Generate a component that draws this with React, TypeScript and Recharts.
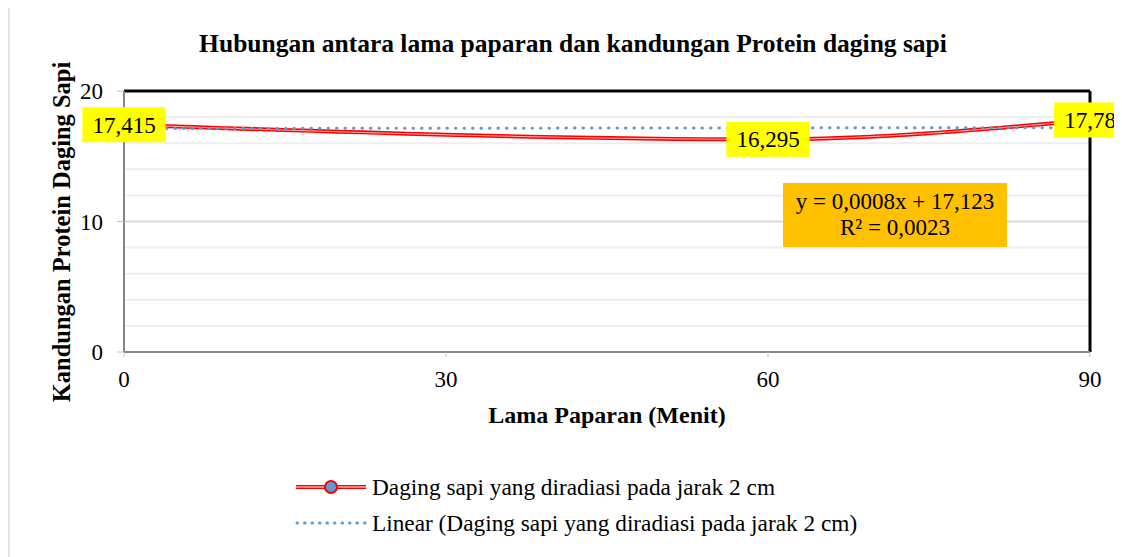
import React from 'react';
import {
  LineChart,
  Line,
  XAxis,
  YAxis,
  ReferenceLine
} from 'recharts';

// minutes of exposure and protein content (%)
const minutes = [0, 60, 90];
const protein = [17.415, 16.295, 17.78];

// linear trendline endpoints (y = 0,0008x + 17,123)
const trendMinutes = [0, 90];
const trendProtein = [17.123, 17.195];

const xTicks = [0, 30, 60, 90];
const yTicks = [0, 10, 20];
const yMinorTicks = [2, 4, 6, 8, 12, 14, 16, 18];

const SERIES_NAME = 'Daging sapi yang diradiasi pada jarak 2 cm';
const FONT = '"Liberation Serif", serif';
const ff = { fontFamily: FONT };

const seriesData = minutes.map((m, i) => ({ m, v: protein[i] }));
const trendData = trendMinutes.map((m, i) => ({ m, t: trendProtein[i] }));

const fmt = (v: number) => String(v).replace('.', ',');

function YellowLabel(props: any) {
  const { x, y, value } = props;
  if (x == null || y == null) return null;
  const text = fmt(value);
  const commas = (text.match(/,/g) || []).length;
  const w = (text.length - commas) * 11.5 + commas * 5.75 + 20;
  const h = 35;
  return (
    <g>
      <rect x={x - w / 2} y={y - h / 2} width={w} height={h} fill="#ffff00" />
      <text
        x={x}
        y={y}
        dy="0.35em"
        textAnchor="middle"
        fill="#000"
        style={{ ...ff, fontSize: 23 }}
      >
        {text}
      </text>
    </g>
  );
}

function XTick(props: any) {
  const { x, y, payload } = props;
  return (
    <text x={x} y={y} dy="0.71em" textAnchor="middle" fill="#000" style={{ ...ff, fontSize: 23 }}>
      {payload.value}
    </text>
  );
}

function YTick(props: any) {
  const { x, y, payload } = props;
  return (
    <text x={x} y={y} dy="0.35em" textAnchor="end" fill="#000" style={{ ...ff, fontSize: 23 }}>
      {payload.value}
    </text>
  );
}

export default function App() {
  return (
    <div
      style={{
        position: 'relative',
        width: 1114,
        height: 551,
        marginTop: -2,
        ...ff,
        background: '#fff'
      }}
    >
      <div
        style={{
          position: 'absolute',
          left: 0,
          top: 0,
          right: -10,
          bottom: -10,
          borderTop: '2px solid #e3e3e3',
          borderLeft: '2px solid #e3e3e3'
        }}
      />
      <div
        style={{
          position: 'absolute',
          left: 0,
          width: 1130,
          top: 23,
          textAlign: 'center',
          fontSize: 25.5,
          fontWeight: 'bold',
          color: '#000',
          ...ff
        }}
      >
        Hubungan antara lama paparan dan kandungan Protein daging sapi
      </div>

      <LineChart
        width={1114}
        height={551}
        data={seriesData}
        margin={{ top: 85, right: 32, left: 0, bottom: 165 }}
      >
        <XAxis
          dataKey="m"
          type="number"
          domain={[0, 90]}
          ticks={xTicks}
          height={40}
          allowDataOverflow
          axisLine={{ stroke: '#868686', strokeWidth: 2 }}
          tickLine={{ stroke: '#bfbfbf' }}
          tickSize={5}
          tickMargin={14}
          tick={<XTick />}
        />
        <YAxis
          type="number"
          domain={[0, 20]}
          ticks={yTicks}
          width={116}
          axisLine={{ stroke: '#868686', strokeWidth: 2 }}
          tickLine={{ stroke: '#bfbfbf' }}
          tickSize={7}
          tickMargin={14}
          tick={<YTick />}
        />
        {yMinorTicks.map((t) => (
          <ReferenceLine key={t} y={t} stroke="#eeeeee" strokeWidth={2} />
        ))}
        <ReferenceLine y={10} stroke="#d9d9d9" strokeWidth={2} />
        <ReferenceLine y={20} stroke="#000" strokeWidth={3} />
        <ReferenceLine x={90} stroke="#000" strokeWidth={3} />
        <Line
          dataKey="v"
          type="monotone"
          stroke="#ff0000"
          strokeWidth={4}
          dot={false}
          isAnimationActive={false}
          name={SERIES_NAME}
          label={<YellowLabel />}
        />
        <Line
          dataKey="v"
          type="monotone"
          stroke="#ffb0b0"
          strokeWidth={1}
          dot={false}
          isAnimationActive={false}
          legendType="none"
        />
        <Line
          data={trendData}
          dataKey="t"
          type="linear"
          stroke="#5b9bd5"
          strokeWidth={3}
          strokeDasharray="0.5 8"
          strokeLinecap="round"
          dot={false}
          isAnimationActive={false}
          name={`Linear (${SERIES_NAME})`}
        />
      </LineChart>

      {/* y-axis title */}
      <div
        style={{
          position: 'absolute',
          left: 54,
          top: 226,
          transform: 'translate(-50%, -50%) rotate(-90deg)',
          whiteSpace: 'nowrap',
          fontSize: 24.5,
          fontWeight: 'bold',
          ...ff
        }}
      >
        Kandungan Protein Daging Sapi
      </div>

      {/* x-axis title */}
      <div
        style={{
          position: 'absolute',
          left: 599,
          top: 409,
          transform: 'translate(-50%, -50%)',
          whiteSpace: 'nowrap',
          fontSize: 24,
          fontWeight: 'bold',
          ...ff
        }}
      >
        Lama Paparan (Menit)
      </div>

      {/* trendline equation */}
      <div
        style={{
          position: 'absolute',
          left: 775,
          top: 177,
          width: 224,
          height: 64,
          background: '#ffc000',
          fontSize: 23,
          lineHeight: '26px',
          textAlign: 'center',
          paddingTop: 6,
          boxSizing: 'border-box',
          ...ff
        }}
      >
        y = 0,0008x + 17,123
        <br />
        R² = 0,0023
      </div>

      {/* legend */}
      <div style={{ position: 'absolute', left: 287, top: 463, fontSize: 23.3, ...ff }}>
        <div style={{ display: 'flex', alignItems: 'center', height: 36 }}>
          <svg width={72} height={20} style={{ marginRight: 5 }}>
            <line x1={1} y1={10} x2={71} y2={10} stroke="#ff0000" strokeWidth={4} />
            <line x1={1} y1={10} x2={71} y2={10} stroke="#ffffff" strokeWidth={1} />
            <circle cx={36} cy={10} r={6} fill="#5b9bd5" stroke="#ff0000" strokeWidth={2} />
          </svg>
          <span style={ff}>{SERIES_NAME}</span>
        </div>
        <div style={{ display: 'flex', alignItems: 'center', height: 36 }}>
          <svg width={72} height={20} style={{ marginRight: 5 }}>
            <line
              x1={2}
              y1={10}
              x2={71}
              y2={10}
              stroke="#5b9bd5"
              strokeWidth={3}
              strokeDasharray="0.5 7"
              strokeLinecap="round"
            />
          </svg>
          <span style={ff}>{`Linear (${SERIES_NAME})`}</span>
        </div>
      </div>
    </div>
  );
}
